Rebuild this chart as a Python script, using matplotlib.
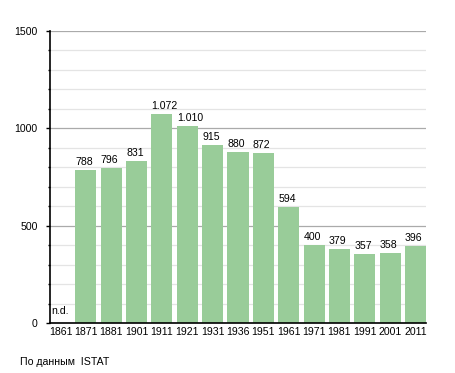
import matplotlib
matplotlib.use("Agg")
import matplotlib.pyplot as plt
import numpy as np

years = ["1861", "1871", "1881", "1901", "1911", "1921", "1931", "1936",
         "1951", "1961", "1971", "1981", "1991", "2001", "2011"]
population = [0, 788, 796, 831, 1072, 1010, 915, 880, 872, 594, 400, 379, 357, 358, 396]
labels = ["n.d.", "788", "796", "831", "1.072", "1.010", "915", "880",
          "872", "594", "400", "379", "357", "358", "396"]

plt.rcParams['font.family'] = ['Liberation Sans', 'DejaVu Sans']
fs = 7.6

fig = plt.figure(figsize=(4.55, 3.73), dpi=100)
ax = fig.add_axes([50/455, 50/373, 376/455, 292/373])

bw = 0.83
x = np.arange(len(years))
ax.bar(x, population, width=bw, align='edge', color='#99cc99', zorder=3)

for xi, v, lab in zip(x, population, labels):
    if v == 0:
        ax.text(xi + 0.05, 35, lab, fontsize=fs, va='bottom', ha='left', zorder=4)
    else:
        ax.text(xi, v + 15, lab, fontsize=fs, va='bottom', ha='left', zorder=4)

ax.set_xlim(0, len(years) - 1 + bw)
ax.set_ylim(0, 1500)
ax.set_xticks(x + bw/2)
ax.set_xticklabels(years, fontsize=fs)
ax.tick_params(axis='x', length=0, pad=3)

ax.set_yticks([0, 500, 1000, 1500])
ax.set_yticks(np.arange(0, 1501, 100), minor=True)
ax.tick_params(axis='y', which='major', length=3, width=1, labelsize=fs, pad=6)
ax.tick_params(axis='y', which='minor', length=1.5, width=1)

ax.grid(axis='y', which='major', color='#aaaaaa', linewidth=0.9, zorder=0)
ax.grid(axis='y', which='minor', color='#e4e4e4', linewidth=0.9, zorder=0)

for s in ['top', 'right']:
    ax.spines[s].set_visible(False)
ax.spines['left'].set_linewidth(1.2)
ax.spines['bottom'].set_linewidth(1.2)
ax.spines['bottom'].set_zorder(5)

fig.text(20/455, 1 - 362/373, "По данным  ISTAT", fontsize=fs, va='center', ha='left')

fig.savefig("out.png", dpi=100)
